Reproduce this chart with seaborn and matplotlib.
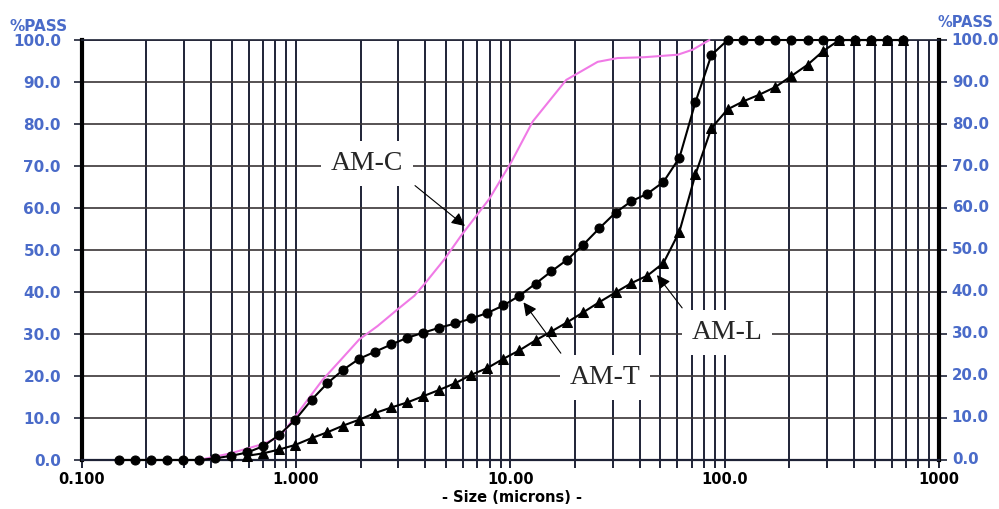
"""Cumulative particle size distribution: AM-C, AM-T and AM-L (%PASS vs size)."""

import matplotlib.pyplot as plt
import seaborn as sns

# sieve sizes (microns) shared by AM-T and AM-L
SIZES = [0.150, 0.178, 0.211, 0.251, 0.298, 0.354, 0.420, 0.499, 0.593, 0.704,
         0.836, 0.992, 1.18, 1.40, 1.66, 1.97, 2.34, 2.78, 3.30, 3.92,
         4.66, 5.53, 6.57, 7.80, 9.27, 11.0, 13.1, 15.5, 18.4, 21.9,
         26.0, 30.9, 36.6, 43.5, 51.7, 61.4, 72.9, 86.5, 103, 122,
         145, 172, 204, 243, 288, 342, 406, 482, 573, 680]

AM_T = [0, 0, 0, 0, 0, 0, 0.4, 1.0, 1.8, 3.3,
        6.0, 9.6, 14.3, 18.3, 21.5, 24.1, 25.8, 27.5, 29.1, 30.3,
        31.5, 32.5, 33.7, 35.0, 36.8, 39.1, 42.0, 44.9, 47.7, 51.3,
        55.2, 58.9, 61.6, 63.4, 66.2, 72.0, 85.2, 96.4, 100, 100,
        100, 100, 100, 100, 100, 100, 100, 100, 100, 100]

AM_L_SIZES = SIZES[8:]
AM_L = [1.0, 1.6, 2.5, 3.6, 5.2, 6.6, 8.2, 9.6, 11.2,
        12.5, 13.7, 15.2, 16.7, 18.3, 20.3, 21.9, 24.1, 26.1, 28.5,
        30.6, 32.8, 35.2, 37.6, 39.9, 42.1, 43.9, 46.9, 54.4, 68.0,
        79.0, 83.5, 85.4, 87.0, 88.8, 91.4, 94.1, 97.4, 100, 100,
        100, 100, 100]

AM_C_SIZES = [0.353, 0.497, 0.700, 0.842, 0.979, 1.15, 1.33, 1.62, 1.97, 2.40,
              2.98, 3.56, 3.97, 4.92, 5.88, 7.04, 7.97, 10.1, 12.7, 18.2,
              25.5, 31.6, 42.0, 60.3, 70.8, 84.7]
AM_C = [0, 1.6, 3.8, 5.6, 10.0, 14.8, 19.1, 23.9, 28.7, 31.9,
        35.9, 39.1, 41.9, 47.8, 53.4, 58.6, 62.2, 71.0, 80.6, 90.5,
        94.8, 95.7, 95.9, 96.5, 97.7, 100]

X_MAJOR = [0.1, 1, 10, 100, 1000]
X_LABELS = ["0.100", "1.000", "10.00", "100.0", "1000"]
X_MINOR = [m * d for d in [0.1, 1, 10, 100] for m in range(2, 10)]
Y_TICKS = list(range(0, 101, 10))

BLUE = "#4a6bc9"
PINK = "#f07ae6"
GRID = "#1e2236"

sns.set_style("white")
plt.rcParams["font.family"] = ["DejaVu Sans"]

fig, ax = plt.subplots(figsize=(9.99, 5.09), dpi=100)
fig.subplots_adjust(left=0.0818, right=0.9402, bottom=0.0963, top=0.9214)

ax.set_xscale("log")
ax.set_xlim(0.1, 1000)
ax.set_ylim(0, 100)

sns.lineplot(x=AM_C_SIZES, y=AM_C, ax=ax, color=PINK, linewidth=1.5,
             sort=False, clip_on=False, zorder=3)
sns.lineplot(x=AM_L_SIZES, y=AM_L, ax=ax, color="black", linewidth=1.5,
             marker="^", markersize=7, markeredgecolor="black",
             sort=False, clip_on=False, zorder=4)
sns.lineplot(x=SIZES, y=AM_T, ax=ax, color="black", linewidth=1.5,
             marker="o", markersize=6.5, markeredgecolor="black",
             sort=False, clip_on=False, zorder=5)

ax.set_xticks(X_MAJOR)
ax.set_xticklabels(X_LABELS, fontweight="bold")
ax.set_xticks(X_MINOR, minor=True)
ax.set_xticklabels([], minor=True)
ax.set_yticks(Y_TICKS)
ax.set_yticklabels([f"{v:.1f}" for v in Y_TICKS], fontweight="bold")

ax.grid(which="both", axis="x", color=GRID, linewidth=1.4)
ax.grid(which="major", axis="y", color="#3a3536", linewidth=1.2)
ax.set_axisbelow(True)

ax.tick_params(axis="x", which="both", direction="out", length=6, width=1.4,
               color=GRID, bottom=True, pad=3, labelsize=10.5, labelcolor="black")
ax.tick_params(axis="y", which="major", direction="out", length=6, width=1.2,
               color=GRID, left=True, right=True, labelleft=True,
               labelright=False, pad=9, labelsize=11, labelcolor=BLUE)

# right-hand %PASS labels
for v in Y_TICKS:
    ax.text(1.0146, v, f"{v:.1f}", transform=ax.get_yaxis_transform(),
            color=BLUE, fontsize=10.8, fontweight="bold", ha="left", va="center")

for side, lw in [("left", 3.0), ("right", 3.0), ("bottom", 1.6), ("top", 1.2)]:
    ax.spines[side].set_visible(True)
    ax.spines[side].set_linewidth(lw)
    ax.spines[side].set_color("black" if side in ("left", "right") else GRID)

fig.text(10 / 999, 1 - 31 / 509, "%PASS", color=BLUE, fontsize=11,
         fontweight="bold", ha="left", va="baseline")
fig.text(937 / 999, 1 - 27 / 509, "%PASS", color=BLUE, fontsize=10.5,
         fontweight="bold", ha="left", va="baseline")
fig.text(0.513, 1 - 497 / 509, "- Size (microns) -", color="black",
         fontsize=10.5, fontweight="bold", ha="center", va="center")

box = dict(boxstyle="square,pad=0.35", fc="white", ec="none")
notes = [
    ("AM-C", (6.2, 55.5), (2.14, 70.6), (1.0, 0.0)),
    ("AM-T", (11.4, 37.8), (27.6, 19.6), (0.0, 1.0)),
    ("AM-L", (47.8, 44.3), (102, 30.4), (0.0, 1.0)),
]
for label, tip, pos, rel in notes:
    ax.annotate(label, xy=tip, xytext=pos, ha="center", va="center",
                fontsize=20, family=["Liberation Serif", "DejaVu Serif"],
                bbox=box, zorder=6,
                arrowprops=dict(arrowstyle="-|>", color="black", lw=0.8,
                                mutation_scale=20, relpos=rel,
                                shrinkA=2, shrinkB=1))

fig.savefig("out.png", dpi=100)
